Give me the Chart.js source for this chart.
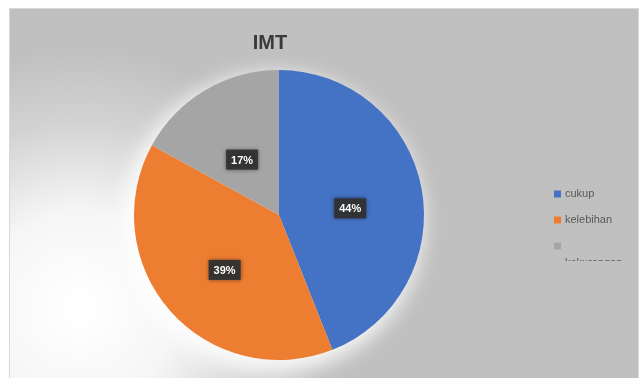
<!DOCTYPE html>
<html><head><meta charset="utf-8">
<script src="https://cdn.jsdelivr.net/npm/chart.js@4/dist/chart.umd.min.js"></script>
<style>
html,body{margin:0;padding:0;background:#fff;width:639px;height:378px;overflow:hidden}
#wrap{position:absolute;left:9px;top:8px;width:630px;height:370px}
</style></head><body>
<div id="wrap"><canvas id="c" width="630" height="370"></canvas></div>
<script>
const categories = ["cukup", "kelebihan", "kekurangan"];
const percentValues = [44, 39, 17];
const chartTitle = "IMT";
const sliceColors = ["#4472C4", "#ED7D31", "#A5A5A5"];

const bgPlugin = {
  id: 'bg',
  beforeDraw(chart) {
    const ctx = chart.ctx, w = chart.width, h = chart.height;
    ctx.save();
    ctx.fillStyle = '#c0c0c0';
    ctx.fillRect(0, 0, w, h);
    const g = ctx.createRadialGradient(70, 300, 10, 70, 300, 260);
    g.addColorStop(0, 'rgba(255,255,255,1)');
    g.addColorStop(0.35, 'rgba(255,255,255,0.85)');
    g.addColorStop(0.7, 'rgba(255,255,255,0.3)');
    g.addColorStop(1, 'rgba(255,255,255,0)');
    ctx.fillStyle = g;
    ctx.fillRect(0, 0, w, h);
    ctx.strokeStyle = '#d8d8d8';
    ctx.lineWidth = 1;
    ctx.strokeRect(0.5, 0.5, w - 1, h);
    ctx.fillStyle = '#3a3a3a';
    ctx.font = 'bold 20px "Liberation Sans Narrow", "Liberation Sans", sans-serif';
    ctx.textAlign = 'center';
    ctx.textBaseline = 'middle';
    ctx.fillText(chartTitle, 261, 35);
    ctx.restore();
  },
  beforeDatasetsDraw(chart) {
    const arc = chart.getDatasetMeta(0).data[0];
    if (!arc) return;
    const ctx = chart.ctx;
    ctx.save();
    ctx.filter = 'blur(10px)';
    ctx.fillStyle = 'rgba(255,255,255,0.85)';
    ctx.beginPath();
    ctx.arc(arc.x - 6, arc.y + 8, arc.outerRadius + 5, 0, Math.PI * 2);
    ctx.fill();
    ctx.restore();
  },
  afterDatasetsDraw(chart) {
    const ctx = chart.ctx;
    const meta = chart.getDatasetMeta(0);
    ctx.save();
    ctx.font = 'bold 11px "Liberation Sans", sans-serif';
    ctx.textAlign = 'center';
    ctx.textBaseline = 'middle';
    meta.data.forEach((a, i) => {
      const mid = (a.startAngle + a.endAngle) / 2;
      const r = a.outerRadius * 0.5;
      const x = a.x + Math.cos(mid) * r;
      const y = a.y + Math.sin(mid) * r + 7;
      const txt = percentValues[i] + '%';
      ctx.fillStyle = 'rgba(50,50,50,0.95)';
      ctx.shadowColor = 'rgba(0,0,0,0.5)';
      ctx.shadowBlur = 4;
      ctx.fillRect(x - 16, y - 10, 32, 20);
      ctx.shadowBlur = 0;
      ctx.fillStyle = '#fff';
      ctx.fillText(txt, x, y + 1);
    });
    ctx.font = '11px "Liberation Sans", sans-serif';
    ctx.textAlign = 'left';
    const lx = 545, ys = [186, 212, 238];
    categories.forEach((c, i) => {
      ctx.fillStyle = sliceColors[i];
      ctx.fillRect(lx, ys[i] - 3.5, 7, 7);
    });
    ctx.fillStyle = '#595959';
    ctx.fillText(categories[0], lx + 11, ys[0]);
    ctx.fillText(categories[1], lx + 11, ys[1]);
    ctx.save();
    ctx.beginPath();
    ctx.rect(lx, ys[2] + 8, 90, 7);
    ctx.clip();
    ctx.fillText(categories[2], lx + 11, ys[2] + 17);
    ctx.restore();
    ctx.restore();
  }
};

new Chart(document.getElementById('c'), {
  type: 'pie',
  data: {
    labels: categories,
    datasets: [{ data: percentValues, backgroundColor: sliceColors, borderWidth: 0 }]
  },
  options: {
    responsive: false,
    animation: false,
    layout: { padding: { left: 125, right: 215, top: 62, bottom: 18 } },
    plugins: { legend: { display: false }, tooltip: { enabled: false }, title: { display: false } }
  },
  plugins: [bgPlugin]
});
</script>
</body></html>
